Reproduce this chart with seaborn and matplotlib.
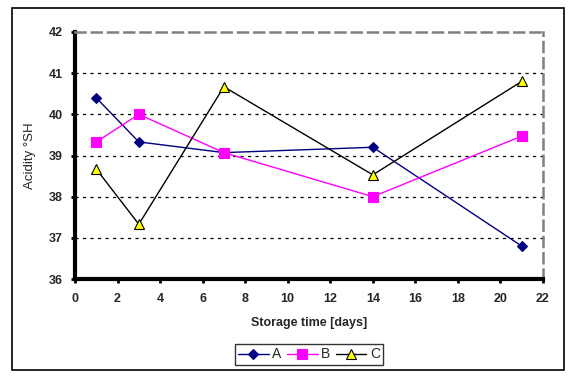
import matplotlib
matplotlib.use("Agg")
import matplotlib.pyplot as plt
import seaborn as sns
import pandas as pd
from matplotlib.patches import Rectangle

days = [1, 3, 7, 14, 21]
series_a = [40.40, 39.33, 39.07, 39.20, 36.80]
series_b = [39.33, 40.00, 39.07, 38.00, 39.47]
series_c = [38.67, 37.33, 40.67, 38.53, 40.80]
names = ["A", "B", "C"]
x_ticks = list(range(0, 23, 2))
y_ticks = [36, 37, 38, 39, 40, 41, 42]

sns.set_theme(style="white")
plt.rcParams['font.family'] = ['Liberation Sans', 'DejaVu Sans']

fig = plt.figure(figsize=(5.75, 3.81), dpi=100)
W, H = 575, 381
ax = fig.add_axes([75 / W, 1 - 279 / H, (543 - 75) / W, (279 - 32) / H])

fig.patches.append(Rectangle((12 / W, 1 - 370 / H), (564 - 12) / W, (370 - 8) / H,
                             transform=fig.transFigure, fill=False, edgecolor="black",
                             linewidth=1.2, zorder=0))

styles = {
    "A": dict(color="#000080", marker="D", ms=5, mfc="#000080", mec="#000080"),
    "B": dict(color="#FF00FF", marker="s", ms=7, mfc="#FF00FF", mec="#FF00FF"),
    "C": dict(color="black", marker="^", ms=7, mfc="#FFFF00", mec="black"),
}
for name, vals in zip(names, [series_a, series_b, series_c]):
    df = pd.DataFrame({"day": days, "val": vals})
    st = styles[name]
    sns.lineplot(data=df, x="day", y="val", ax=ax, color=st["color"], linewidth=1,
                 marker=st["marker"], markersize=st["ms"], markerfacecolor=st["mfc"],
                 markeredgecolor=st["mec"], markeredgewidth=0.8, label=name, zorder=3)

ax.set_xlim(0, 22)
ax.set_ylim(36, 42)
ax.set_xticks(x_ticks)
ax.set_yticks(y_ticks)
ax.set_xticklabels([str(t) for t in x_ticks], fontsize=9, fontweight="bold")
ax.set_yticklabels([str(t) for t in y_ticks], fontsize=9, fontweight="bold")

for t in [37, 38, 39, 40, 41]:
    ax.axhline(t, color="black", linewidth=0.9, linestyle=(0, (2.5, 3.5)), zorder=1)

for s in ["left", "bottom"]:
    ax.spines[s].set_linewidth(3)
    ax.spines[s].set_color("black")
for s in ["top", "right"]:
    ax.spines[s].set_linewidth(1.8)
    ax.spines[s].set_color("#808080")
    ax.spines[s].set_linestyle((0, (4, 2.5)))

ax.tick_params(axis="x", direction="out", length=3, width=2, color="black",
               pad=7, bottom=True)
ax.tick_params(axis="y", direction="out", length=3, width=2, color="black",
               pad=6, left=True)

ax.set_xlabel("Storage time [days]", fontsize=9, fontweight="bold", labelpad=9)
ax.set_ylabel("Acidity °SH", fontsize=9.5, labelpad=9)

leg = ax.legend(loc="center", bbox_to_anchor=(309 / W, 1 - 354.5 / H),
                bbox_transform=fig.transFigure, ncol=3, frameon=True, fancybox=False,
                fontsize=10, handlelength=2.2, columnspacing=0.4, handletextpad=0.25,
                borderpad=0.25, borderaxespad=0)
leg.get_frame().set_edgecolor("black")
leg.get_frame().set_linewidth(1)

fig.savefig("out.png", dpi=100)
